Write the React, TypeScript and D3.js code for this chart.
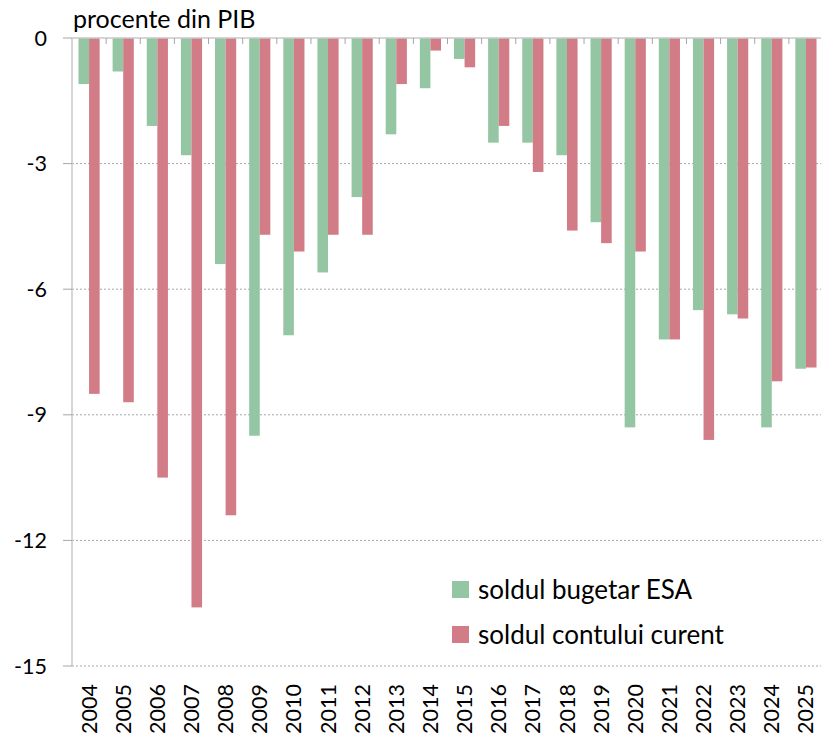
import React, { useRef, useEffect } from 'react';
import * as d3 from 'd3';

const years = ['2004', '2005', '2006', '2007', '2008', '2009', '2010', '2011', '2012', '2013', '2014',
  '2015', '2016', '2017', '2018', '2019', '2020', '2021', '2022', '2023', '2024', '2025'];
const budgetBalance = [-1.1, -0.8, -2.1, -2.8, -5.4, -9.5, -7.1, -5.6, -3.8, -2.3, -1.2,
  -0.5, -2.5, -2.5, -2.8, -4.4, -9.3, -7.2, -6.5, -6.6, -9.3, -7.9];
const currentAccount = [-8.5, -8.7, -10.5, -13.6, -11.4, -4.7, -5.1, -4.7, -4.7, -1.1, -0.3,
  -0.7, -2.1, -3.2, -4.6, -4.9, -5.1, -7.2, -9.6, -6.7, -8.2, -7.87];
const seriesNames = ['soldul bugetar ESA', 'soldul contului curent'];
const seriesColors = ['#94c6a3', '#d17c86'];
const yTicks = [0, -3, -6, -9, -12, -15];
const unitLabel = 'procente din PIB';

const font = 'Lato, "Open Sans", sans-serif';

const App = () => {
  const svgRef = useRef<SVGSVGElement>(null);

  useEffect(() => {
    document.body.style.margin = '0';
    const svg = d3.select(svgRef.current);
    svg.selectAll('*').remove();

    const left = 72, right = 823, top = 38, bottom = 666;

    const x0 = d3.scaleBand().domain(years).range([left, right]).padding(0);
    const gap = x0.bandwidth() * 0.19;
    const x1 = d3.scaleBand().domain(['0', '1']).range([gap, x0.bandwidth() - gap]);
    const y = d3.scaleLinear().domain([0, -15]).range([top, bottom]);

    // grid lines
    svg.append('g').selectAll('line').data(yTicks.slice(1)).join('line')
      .attr('x1', left).attr('x2', 821)
      .attr('y1', d => y(d)).attr('y2', d => y(d))
      .attr('stroke', '#a6a6a6').attr('stroke-width', 1)
      .attr('stroke-dasharray', '2,2');

    // bars
    const series = [budgetBalance, currentAccount];
    series.forEach((vals, si) => {
      svg.append('g').selectAll('rect').data(vals).join('rect')
        .attr('x', (d, i) => x0(years[i])! + x1(String(si))!)
        .attr('y', y(0))
        .attr('width', x1.bandwidth())
        .attr('height', d => y(d) - y(0))
        .attr('fill', seriesColors[si]);
    });

    // y axis
    const yAxis = svg.append('g');
    yAxis.append('line').attr('x1', left).attr('x2', left).attr('y1', top).attr('y2', bottom)
      .attr('stroke', '#c8c8c8').attr('stroke-width', 1.5);
    yAxis.selectAll('line.tick').data(yTicks).join('line').attr('class', 'tick')
      .attr('x1', left - 9).attr('x2', left)
      .attr('y1', d => y(d)).attr('y2', d => y(d))
      .attr('stroke', '#a6a6a6');
    yAxis.selectAll('text').data(yTicks).join('text')
      .attr('x', 47).attr('y', d => y(d))
      .attr('dy', '0.35em')
      .attr('text-anchor', 'end')
      .style('font-family', font).style('font-size', '21.5px').attr('fill', '#000')
      .text(d => String(d));

    // x axis at zero
    const xAxis = svg.append('g');
    xAxis.append('line').attr('x1', left).attr('x2', 821).attr('y1', top).attr('y2', top)
      .attr('stroke', '#c8c8c8').attr('stroke-width', 1.5);
    xAxis.selectAll('line.tick').data(years.slice(1)).join('line').attr('class', 'tick')
      .attr('x1', d => x0(d)!).attr('x2', d => x0(d)!)
      .attr('y1', top).attr('y2', top + 6)
      .attr('stroke', '#a6a6a6');

    // year labels
    svg.append('g').selectAll('text').data(years).join('text')
      .attr('transform', d => `translate(${x0(d)! + x0.bandwidth() / 2},684) rotate(-90)`)
      .attr('dy', '0.35em')
      .attr('text-anchor', 'end')
      .style('font-family', font).style('font-size', '21.5px').attr('fill', '#000')
      .text(d => d);

    // unit label
    svg.append('text').attr('x', 73).attr('y', 28)
      .style('font-family', font).style('font-size', '25px').attr('fill', '#000')
      .text(unitLabel);

    // legend
    const legend = svg.append('g').selectAll('g').data(seriesNames).join('g')
      .attr('transform', (d, i) => `translate(452,${581 + i * 45})`);
    legend.append('rect').attr('width', 17).attr('height', 17)
      .attr('fill', (d, i) => seriesColors[i]);
    legend.append('text').attr('x', 26).attr('y', 9).attr('dy', '0.35em')
      .style('font-family', font).style('font-size', '26px').attr('fill', '#000')
      .text(d => d);
  }, []);

  return <svg ref={svgRef} width={821} height={740} style={{ display: 'block', background: '#fff' }} />;
};

export default App;
